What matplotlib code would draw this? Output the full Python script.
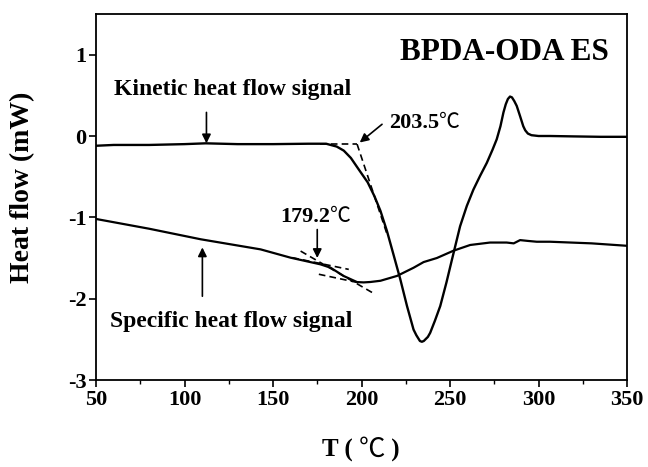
import matplotlib
matplotlib.use("Agg")
import matplotlib.pyplot as plt
from matplotlib.transforms import IdentityTransform

# Kinetic heat flow signal
kin_T = [50, 60, 80, 100, 112, 130, 150, 170, 180, 186, 190, 194, 198.4, 203.5, 207.3,
         210.7, 214.4, 218.1, 221.9, 225.7, 229.4, 231, 233, 234.1, 235.2, 237.5, 238.8,
         241.5, 244.5, 248, 251.1, 255.7, 259.5, 263.2, 267, 270.8, 274, 276.4, 278.5,
         280.2, 281.5, 282.7, 283.9, 285, 286.3, 287.7, 289.5, 291.4, 292.5, 294, 296,
         300, 306.5, 320, 335, 350]
kin_Q = [-0.12, -0.11, -0.11, -0.10, -0.09, -0.10, -0.10, -0.095, -0.095, -0.13, -0.18,
         -0.27, -0.41, -0.57, -0.74, -0.92, -1.17, -1.46, -1.76, -2.09, -2.38, -2.45,
         -2.52, -2.53, -2.52, -2.47, -2.42, -2.27, -2.09, -1.80, -1.52, -1.11, -0.86,
         -0.66, -0.49, -0.33, -0.17, -0.04, 0.12, 0.29, 0.39, 0.455, 0.485, 0.475, 0.43,
         0.37, 0.25, 0.12, 0.07, 0.03, 0.01, 0.0, 0.0, -0.005, -0.01, -0.01]

# Specific heat flow signal
spec_T = [50, 80, 109.2, 143, 159.9, 176.8, 182.5, 190, 197.5, 201.2, 205, 210.7, 220.1,
          229.4, 235.1, 242.6, 252, 261.4, 272.6, 282, 286, 289.6, 294, 299, 306.5, 330, 350]
spec_Q = [-1.02, -1.14, -1.27, -1.394, -1.496, -1.578, -1.619, -1.722, -1.796, -1.80,
          -1.795, -1.78, -1.72, -1.62, -1.55, -1.50, -1.41, -1.34, -1.31, -1.31, -1.32,
          -1.28, -1.29, -1.30, -1.30, -1.32, -1.35]

# Tangent construction lines (onset determination)
tan_kin_h_T = [176.8, 197.5]
tan_kin_h_Q = [-0.10, -0.10]
tan_kin_s_T = [197.5, 214.4]
tan_kin_s_Q = [-0.10, -1.205]
tan_spec_a_T = [160.9, 192.8]
tan_spec_a_Q = [-1.496, -1.64]
tan_spec_b_T = [165.6, 207.8]
tan_spec_b_Q = [-1.415, -1.947]
tan_spec_c_T = [175.9, 197.5]
tan_spec_c_Q = [-1.70, -1.80]

xticks = [50, 100, 150, 200, 250, 300, 350]
xminor = [75, 125, 175, 225, 275, 325]
yticks = [-3, -2, -1, 0, 1]

SERIF = ['Liberation Serif', 'DejaVu Serif']
CJK = ['Noto Sans CJK SC', 'DejaVu Sans']
plt.rcParams['font.family'] = SERIF
plt.rcParams['axes.unicode_minus'] = False

W, H = 648, 467
fig = plt.figure(figsize=(W / 100, H / 100), dpi=100)
ax = fig.add_axes([96 / W, 87 / H, 531 / W, 366 / H])

ax.plot(kin_T, kin_Q, color='black', lw=1.7)
ax.plot(spec_T, spec_Q, color='black', lw=1.6)
for tx, ty in [(tan_kin_h_T, tan_kin_h_Q), (tan_kin_s_T, tan_kin_s_Q),
               (tan_spec_a_T, tan_spec_a_Q), (tan_spec_b_T, tan_spec_b_Q),
               (tan_spec_c_T, tan_spec_c_Q)]:
    ax.plot(tx, ty, color='black', lw=1.2, ls=(0, (4, 2.5)))

ax.set_xlim(50, 350)
ax.set_ylim(-3, 1.5)
ax.set_xticks(xticks)
ax.set_xticks(xminor, minor=True)
ax.set_yticks(yticks)
ax.tick_params(axis='both', which='major', direction='out', length=5, width=1.2,
               labelsize=16, pad=2)
ax.tick_params(axis='both', which='minor', direction='out', length=3, width=1.0)
for lab in ax.get_xticklabels() + ax.get_yticklabels():
    lab.set_fontweight('bold')
for s in ax.spines.values():
    s.set_linewidth(1.3)

ax.set_ylabel('Heat flow (mW)', fontsize=20, fontweight='bold')
ax.yaxis.set_label_coords(-0.115, 0.526)

ax.text(339.7, 1.03, 'BPDA-ODA ES', fontsize=22.5, fontweight='bold', ha='right', va='center')
ax.text(59.9, 0.566, 'Kinetic heat flow signal', fontsize=17, fontweight='bold',
        ha='left', va='center')
ax.text(57.9, -2.275, 'Specific heat flow signal', fontsize=17, fontweight='bold',
        ha='left', va='center')

arrow = dict(arrowstyle='-|>', color='black', lw=1.2, mutation_scale=13, shrinkA=0, shrinkB=0)
ax.annotate('', xy=(112.4, -0.09), xytext=(112.4, 0.29), arrowprops=arrow)
ax.annotate('', xy=(110.1, -1.37), xytext=(110.1, -1.97), arrowprops=arrow)
ax.annotate('', xy=(175, -1.50), xytext=(175, -1.15), arrowprops=arrow)
ax.annotate('', xy=(199, -0.08), xytext=(211.6, 0.144), arrowprops=arrow)


def multi_text(x, y_base, pieces, ha='left'):
    """pieces of text on one baseline; x, y_base in pixels from top-left."""
    arts = [fig.text(0, 0, s, transform=IdentityTransform(), ha='left', va='baseline', **kw)
            for s, kw in pieces]
    fig.canvas.draw()
    r = fig.canvas.get_renderer()
    widths = [a.get_window_extent(r).width for a in arts]
    x0 = x - sum(widths) / 2 if ha == 'center' else x
    for a, w in zip(arts, widths):
        a.set_position((x0, H - y_base))
        x0 += w


num_kw = dict(fontsize=16, fontweight='bold', family=SERIF)
deg_kw = dict(fontsize=15, fontweight='normal', family=CJK)
multi_text(280, 221.7, [('179.2', num_kw), ('℃', deg_kw)])
multi_text(389, 128.3, [('203.5', num_kw), ('℃', deg_kw)])
lab_kw = dict(fontsize=18, fontweight='bold', family=SERIF)
multi_text(361, 456.7, [('T ( ', lab_kw), ('℃', dict(fontsize=19, fontweight='normal', family=CJK)),
                        (' )', lab_kw)], ha='center')

fig.savefig('out.png', dpi=100)
